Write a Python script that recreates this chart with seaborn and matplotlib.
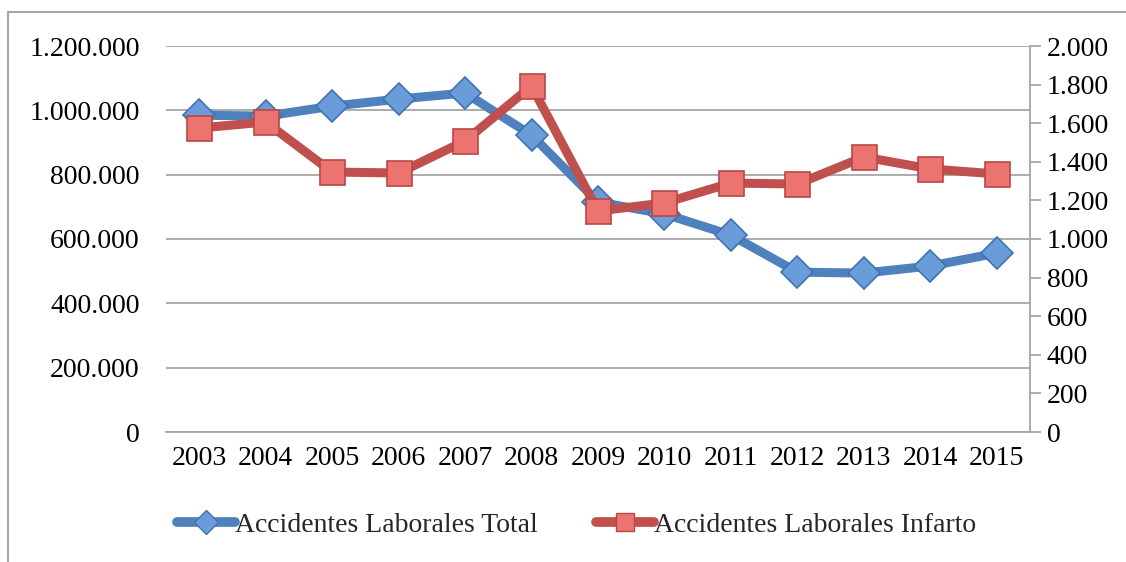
import matplotlib
matplotlib.use("Agg")
import matplotlib.pyplot as plt
import seaborn as sns
import pandas as pd
from matplotlib.ticker import FuncFormatter, MultipleLocator
from matplotlib.lines import Line2D

years = ["2003", "2004", "2005", "2006", "2007", "2008", "2009",
         "2010", "2011", "2012", "2013", "2014", "2015"]
total = [985000, 982000, 1013000, 1035000, 1054000, 923000, 715000,
         678000, 612000, 497000, 494000, 516000, 556000]
infarto = [1575, 1606, 1347, 1342, 1508, 1793, 1145,
           1187, 1290, 1285, 1425, 1363, 1337]
name_total = "Accidentes Laborales Total"
name_infarto = "Accidentes Laborales Infarto"

sns.set_theme(style="white")
plt.rcParams['font.family'] = ['Liberation Serif', 'DejaVu Serif']

df = pd.DataFrame({"year": years, "total": total, "infarto": infarto})
df["x"] = range(len(years))

fig = plt.figure(figsize=(11.26, 5.62), dpi=100)
# chart frame (top and left edges visible in the reference)
fig.add_artist(Line2D([8/1126, 8/1126], [0, 1-12/562], transform=fig.transFigure,
                      color="#a6a6a6", linewidth=1.5))
fig.add_artist(Line2D([8/1126, 1], [1-12/562, 1-12/562], transform=fig.transFigure,
                      color="#a6a6a6", linewidth=1.5))

ax = fig.add_axes([166/1126, 1-432/562, (1030-166)/1126, (432-46)/562])
ax2 = ax.twinx()

blue_line = "#4F81BD"
blue_mk = "#6A9CDA"
blue_edge = "#3F72B0"
red_line = "#C0504D"
red_mk = "#EC7470"
red_edge = "#B94744"

sns.lineplot(data=df, x="x", y="total", ax=ax, color=blue_line, linewidth=6.5,
             marker="D", markersize=16, markerfacecolor=blue_mk,
             markeredgecolor=blue_edge, markeredgewidth=1.2, legend=False)
sns.lineplot(data=df, x="x", y="infarto", ax=ax2, color=red_line, linewidth=6.5,
             marker="s", markersize=18, markerfacecolor=red_mk,
             markeredgecolor=red_edge, markeredgewidth=1.2, legend=False)

ax.set_xlim(-0.5, len(years) - 0.5)
ax.set_ylim(0, 1200000)
ax2.set_ylim(0, 2000)
ax.yaxis.set_major_locator(MultipleLocator(200000))
ax2.yaxis.set_major_locator(MultipleLocator(200))
ax.set_xticks(df["x"])
ax.set_xticklabels(years)

fmt = FuncFormatter(lambda v, p: f"{int(round(v)):,}".replace(",", "."))
ax.yaxis.set_major_formatter(fmt)
ax2.yaxis.set_major_formatter(fmt)

ax.grid(axis="y", color="#a6a6a6", linewidth=1.3)
ax.set_xlabel("")
ax.set_ylabel("")
ax2.set_ylabel("")
for a in (ax, ax2):
    for s in ("top", "left", "right", "bottom"):
        a.spines[s].set_visible(False)
ax.spines["bottom"].set_visible(True)
ax.spines["bottom"].set_color("#a6a6a6")
ax.spines["bottom"].set_linewidth(1.3)
ax2.spines["right"].set_visible(True)
ax2.spines["right"].set_color("#a6a6a6")
ax2.spines["right"].set_linewidth(1.3)

ax.tick_params(axis="y", length=0, labelsize=20, pad=19, colors="black")
ax.tick_params(axis="x", length=0, labelsize=20, pad=10, colors="black")
ax2.tick_params(axis="y", direction="out", length=8, width=1.3, color="#a6a6a6",
                labelsize=20, pad=4, labelcolor="black")

handles = [
    Line2D([], [], color=blue_line, linewidth=7, marker="D", markersize=12,
           markerfacecolor=blue_mk, markeredgecolor=blue_edge),
    Line2D([], [], color=red_line, linewidth=7, marker="s", markersize=13,
           markerfacecolor=red_mk, markeredgecolor=red_edge),
]
fig.legend(handles, [name_total, name_infarto], loc="center",
           bbox_to_anchor=(0.512, 1-525/562), ncol=2, frameon=False,
           fontsize=20, handlelength=2.1, handletextpad=0.0, columnspacing=2.1)

fig.savefig("out.png", dpi=100)
